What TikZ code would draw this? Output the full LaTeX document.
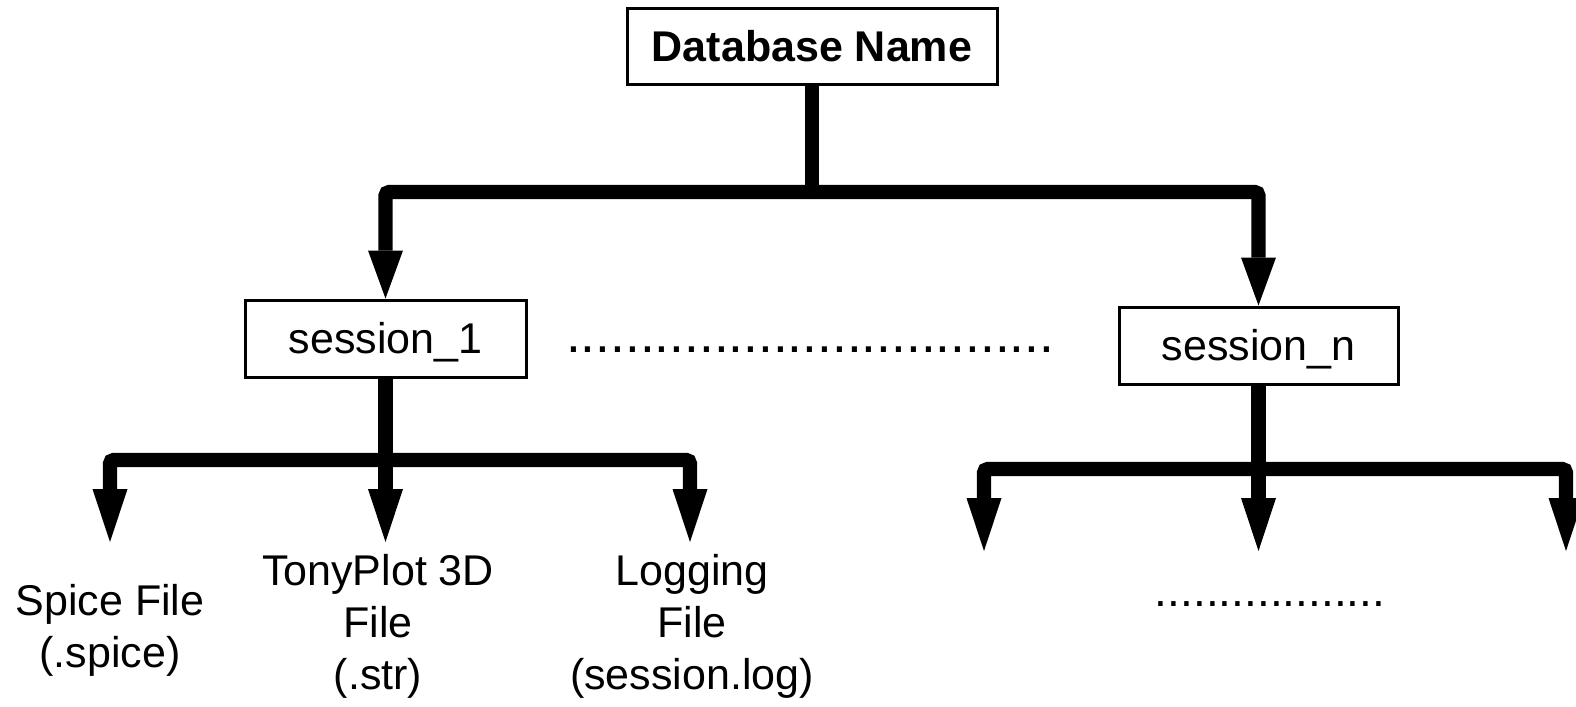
\documentclass[tikz,border=0pt]{standalone}
\usepackage{fontspec}
\setmainfont{Liberation Sans}
\usetikzlibrary{arrows.meta}
\begin{document}
\begin{tikzpicture}[x=0.5pt,y=-0.5pt,
  box/.style={draw, line width=1.5pt, inner sep=0pt, text height=15.4pt, text depth=0pt},
  txt/.style={font=\fontsize{21.5}{26}\selectfont},
  conn/.style={line width=7.2pt, rounded corners=2pt},
  arrA/.style={conn, -{Triangle[width=17.5pt,length=24pt,line width=0pt]}},
  arrB/.style={conn, -{Triangle[width=17.5pt,length=26.5pt,line width=0pt]}},
  leaf/.style={txt, align=center, inner sep=0pt, anchor=north}
]
\useasboundingbox (0,0) rectangle (1576,707);
% boxes
\node[box, minimum width=185pt, minimum height=38pt, font=\fontsize{21.5}{24}\selectfont\bfseries] (db) at (812,46) {Database Name};
\node[box, txt, minimum width=140.5pt, minimum height=38.5pt] (s1) at (385.5,338.5) {session\_1};
\node[box, txt, minimum width=139.5pt, minimum height=38.5pt] (sn) at (1258.5,345.5) {session\_n};
% dots
\node[font=\fontsize{26.6}{28}\selectfont, inner sep=0pt, anchor=base] (dots1) at (810,352) {.................................};
\node[font=\fontsize{23}{26}\selectfont, inner sep=0pt, anchor=base] (dots2) at (1270,606) {..................};
% leaves
\node[leaf] (spice) at (110,584) {Spice File\\(.spice)};
\node[leaf] (tony) at (378,554) {TonyPlot 3D\\File\\(.str)};
\node[leaf] (log) at (692,554) {Logging\\File\\(session.log)};
% junctions and ends
\coordinate (j1) at (812,192);
\coordinate (j2) at (385.5,460);
\coordinate (j3) at (1258.5,469);
\coordinate (e1) at (110,542);
\coordinate (e2) at (385.5,542);
\coordinate (e3) at (690,542);
\coordinate (e4) at (984,551);
\coordinate (e5) at (1258.5,551);
\coordinate (e6) at (1566,551);
% connectors
\draw[conn] (db.south) -- (j1);
\draw[arrA] (j1) -| (s1.north);
\draw[arrA] (j1) -| (sn.north);
\draw[conn] (s1.south) -- (j2);
\draw[arrB] (j2) -| (e1);
\draw[arrB] (j2) -- (e2);
\draw[arrB] (j2) -| (e3);
\draw[conn] (sn.south) -- (j3);
\draw[arrB] (j3) -| (e4);
\draw[arrB] (j3) -- (e5);
\draw[arrB] (j3) -| (e6);
\end{tikzpicture}
\end{document}
